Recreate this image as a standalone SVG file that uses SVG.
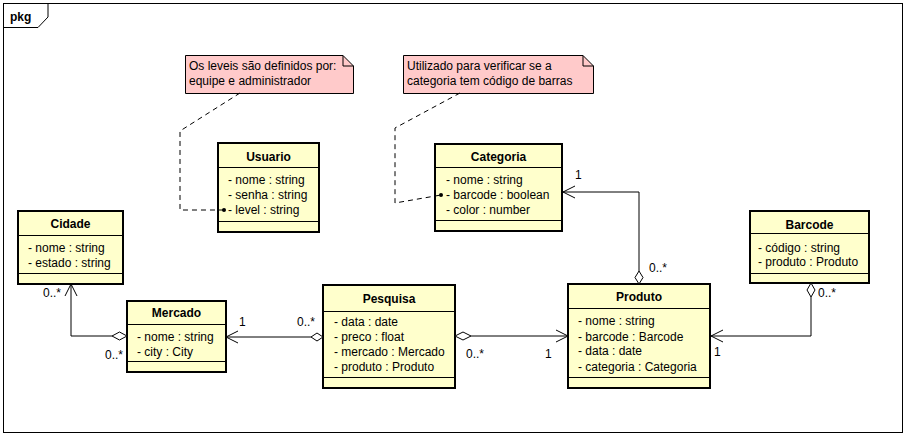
<svg xmlns="http://www.w3.org/2000/svg" width="906" height="436" viewBox="0 0 906 436">
<style>
text{font-family:"Liberation Sans",Arial,sans-serif;font-size:12px;fill:#000}
.t{font-weight:bold;text-anchor:middle}
.cls{fill:#FFFFCC;stroke:#000;stroke-width:2}
.sep{stroke:#000;stroke-width:1}
.note{fill:#FFCACA;stroke:#000;stroke-width:1}
.ln{fill:none;stroke:#000;stroke-width:1}
.dash{fill:none;stroke:#000;stroke-width:1;stroke-dasharray:5,4}
.dia{fill:#fff;stroke:#000;stroke-width:1}
</style>
<defs>
<marker id="arr" viewBox="0 0 12 14" refX="12" refY="7" markerWidth="12" markerHeight="14" markerUnits="userSpaceOnUse" orient="auto">
<path d="M0,1 L12,7 L0,13" fill="none" stroke="#000" stroke-width="1"/>
</marker>
</defs>
<rect width="906" height="436" fill="#fff"/>
<g id="frame">
<rect x="3.5" y="3.5" width="899" height="429" fill="none" stroke="#000"/>
<path d="M3.5,27.5 H38 L48,17 V3.5" fill="none" stroke="#000"/>
<text x="10" y="21" style="font-weight:bold">pkg</text>
</g>
<g id="note1">
<path class="note" d="M185.5,55.5 H343 L353.5,66 V93.5 H185.5 Z"/>
<path class="ln" d="M343,55.5 V66 H353.5"/>
<text x="189" y="70">Os leveis são definidos por:</text>
<text x="189" y="85">equipe e administrador</text>
</g>
<g id="note2">
<path class="note" d="M403.5,55.5 H583 L593.5,66 V93.5 H403.5 Z"/>
<path class="ln" d="M583,55.5 V66 H593.5"/>
<text x="407" y="70">Utilizado para verificar se a</text>
<text x="407" y="85">categoria tem código de barras</text>
</g>
<g id="Usuario">
<rect class="cls" x="218" y="143" width="101" height="89"/>
<line class="sep" x1="218" y1="167.5" x2="319" y2="167.5"/>
<line class="sep" x1="218" y1="221.5" x2="319" y2="221.5"/>
<text class="t" x="268.5" y="161">Usuario</text>
<text x="228" y="184">- nome : string</text>
<text x="228" y="199">- senha : string</text>
<text x="228" y="214">- level : string</text>
</g>
<g id="Categoria">
<rect class="cls" x="435" y="144" width="127" height="87"/>
<line class="sep" x1="435" y1="167.5" x2="562" y2="167.5"/>
<line class="sep" x1="435" y1="220.5" x2="562" y2="220.5"/>
<text class="t" x="498.5" y="161">Categoria</text>
<text x="446" y="184">- nome : string</text>
<text x="446" y="199">- barcode : boolean</text>
<text x="446" y="214">- color : number</text>
</g>
<g id="Cidade">
<rect class="cls" x="18" y="211" width="105" height="73"/>
<line class="sep" x1="18" y1="235.5" x2="123" y2="235.5"/>
<line class="sep" x1="18" y1="273.5" x2="123" y2="273.5"/>
<text class="t" x="70.5" y="228">Cidade</text>
<text x="28" y="252">- nome : string</text>
<text x="28" y="267">- estado : string</text>
</g>
<g id="Mercado">
<rect class="cls" x="127" y="301" width="99" height="71"/>
<line class="sep" x1="127" y1="324.5" x2="226" y2="324.5"/>
<line class="sep" x1="127" y1="361.5" x2="226" y2="361.5"/>
<text class="t" x="176.5" y="317">Mercado</text>
<text x="137" y="341">- nome : string</text>
<text x="137" y="356">- city : City</text>
</g>
<g id="Pesquisa">
<rect class="cls" x="323" y="285" width="132" height="103"/>
<line class="sep" x1="323" y1="311.5" x2="455" y2="311.5"/>
<line class="sep" x1="323" y1="377.5" x2="455" y2="377.5"/>
<text class="t" x="389" y="303">Pesquisa</text>
<text x="334" y="326">- data : date</text>
<text x="334" y="341">- preco : float</text>
<text x="334" y="356">- mercado : Mercado</text>
<text x="334" y="371">- produto : Produto</text>
</g>
<g id="Produto">
<rect class="cls" x="568" y="284" width="142" height="104"/>
<line class="sep" x1="568" y1="308.5" x2="710" y2="308.5"/>
<line class="sep" x1="568" y1="377.5" x2="710" y2="377.5"/>
<text class="t" x="639" y="301">Produto</text>
<text x="578" y="325">- nome : string</text>
<text x="578" y="341">- barcode : Barcode</text>
<text x="578" y="355">- data : date</text>
<text x="578" y="371">- categoria : Categoria</text>
</g>
<g id="Barcode">
<rect class="cls" x="750" y="211" width="119" height="72"/>
<line class="sep" x1="750" y1="233.5" x2="869" y2="233.5"/>
<line class="sep" x1="750" y1="273.5" x2="869" y2="273.5"/>
<text class="t" x="809.5" y="229">Barcode</text>
<text x="758" y="252">- código : string</text>
<text x="758" y="266">- produto : Produto</text>
</g>
<g id="connectors">
<path class="dash" d="M240,93 L180,131 V210 H224"/>
<circle cx="224" cy="210" r="2" fill="#000"/>
<path class="dash" d="M460,93 L395,128 V203 L441,195"/>
<circle cx="441" cy="195" r="2" fill="#000"/>
<path class="ln" d="M112,336 H71 V284" marker-end="url(#arr)"/>
<path class="dia" d="M127,336 L119.5,332 L112,336 L119.5,340 Z"/>
<path class="ln" d="M311,337 H226" marker-end="url(#arr)"/>
<path class="dia" d="M323,337 L317,333 L311,337 L317,341 Z"/>
<path class="ln" d="M471,336 H568" marker-end="url(#arr)"/>
<path class="dia" d="M455,336 L463,332 L471,336 L463,340 Z"/>
<path class="ln" d="M639,271 V192 H563" marker-end="url(#arr)"/>
<path class="dia" d="M639,284 L635,277.5 L639,271 L643,277.5 Z"/>
<path class="ln" d="M811,297 V336 H711" marker-end="url(#arr)"/>
<path class="dia" d="M811,283 L807,290 L811,297 L815,290 Z"/>
<text x="43" y="297">0..*</text>
<text x="105" y="359">0..*</text>
<text x="239" y="326">1</text>
<text x="297" y="326">0..*</text>
<text x="466" y="358">0..*</text>
<text x="545" y="358">1</text>
<text x="575" y="179">1</text>
<text x="649" y="272">0..*</text>
<text x="818" y="297">0..*</text>
<text x="714" y="356">1</text>
</g>
</svg>
